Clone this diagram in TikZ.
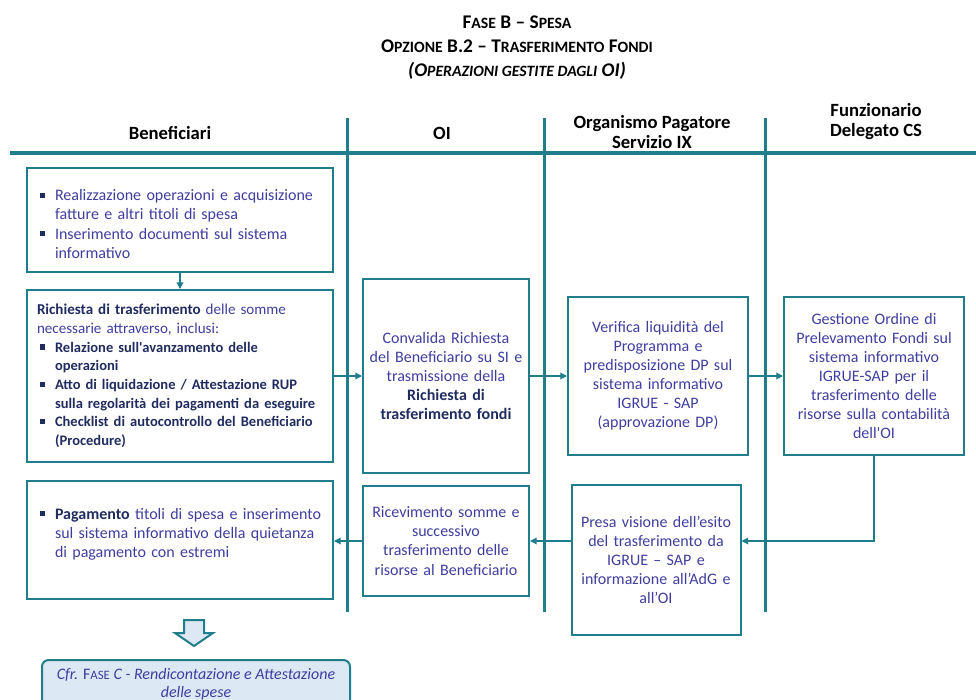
\documentclass[tikz,border=0pt]{standalone}
\usepackage{fontspec}
\setmainfont{Carlito}
\usetikzlibrary{positioning, arrows.meta}
\definecolor{lane}{RGB}{31,125,140}
\definecolor{txtblue}{RGB}{62,62,160}
\definecolor{navy}{RGB}{32,44,96}
\definecolor{cfrfill}{RGB}{221,232,245}
\newcommand{\smc}[1]{{\fontsize{11.8pt}{15pt}\selectfont #1}}
\newcommand{\nl}{\hfil\break}
\newcommand{\bitem}{\par\noindent\hangindent=13.5pt\hangafter=1\hspace*{2.25pt}\makebox[11.25pt][l]{\textcolor{navy}{\rule[2pt]{4pt}{4pt}}}}
\tikzset{
  lanebox/.style={draw=lane, line width=1.5pt, text=txtblue, inner ysep=0pt, font=\fontsize{12pt}{14.3pt}\selectfont},
  ctrbox/.style={lanebox, align=center, inner xsep=2pt},
  listbox/.style={lanebox, align=left, inner xsep=7.5pt, text width=214.5pt},
  cfrbox/.style={draw=lane, line width=1.5pt, fill=cfrfill, rounded corners=5pt, text=txtblue, align=center, inner ysep=0pt, font=\fontsize{12pt}{13.5pt}\selectfont},
  laneline/.style={draw=lane, line width=2.25pt},
  flow/.style={draw=lane, line width=0.9pt, -{Triangle[length=5pt,width=5pt]}},
  header/.style={font=\fontsize{14pt}{15pt}\selectfont\bfseries, align=center}
}
\begin{document}
\begin{tikzpicture}[x=0.75pt, y=-0.75pt]
    \useasboundingbox (0,0) rectangle (976,700);
    \clip (0,0) rectangle (976,700);

    % Title
    \node[header, font=\fontsize{14.5pt}{15pt}\selectfont\bfseries] (title) at (517,48) {F\smc{ASE} B -- S\smc{PESA}\\[3pt]
        O\smc{PZIONE} B.2 -- T\smc{RASFERIMENTO} F\smc{ONDI}\\[3pt]
        \textit{(O\smc{PERAZIONI GESTITE DAGLI} OI)}};

    % Lanes
    \draw[lane, line width=3pt] (10,153) -- (976,153);
    \draw[laneline] (347,118) -- (347,612);
    \draw[laneline] (544,118) -- (544,612);
    \draw[laneline] (765,118) -- (765,612);

    \node[header] (hbenef) at (170,133) {Beneficiari};
    \node[header] (hoi) at (442,133) {OI};
    \node[header] (hpag) at (652,132) {Organismo Pagatore\\Servizio IX};
    \node[header] (hfunz) at (876,122) {Funzionario\\Delegato CS};

    % Boxes
    \node[listbox, minimum height=78pt] (real) at (180,220) {%
        \bitem Realizzazione operazioni e acquisizione\nl fatture e altri titoli di spesa
        \bitem Inserimento documenti sul sistema\nl informativo\par};
    \node[listbox, minimum height=129pt, font=\fontsize{11.3pt}{14pt}\selectfont] (rich) at (180,376) {%
        \textcolor{navy}{\textbf{Richiesta di trasferimento}} delle somme\nl necessarie attraverso, inclusi:
        \color{navy}\bfseries\fontsize{10.9pt}{14pt}\selectfont
        \bitem Relazione sull\textquotesingle avanzamento delle\nl operazioni
        \bitem Atto di liquidazione / Attestazione RUP\nl sulla regolarità dei pagamenti da eseguire
        \bitem Checklist di autocontrollo del Beneficiario\nl (Procedure)\par};
    \node[ctrbox, text width=120.5pt, minimum height=145.5pt] (conv) at (446,376) {Convalida Richiesta\\ del Beneficiario su SI e\\ trasmissione della\\ \textcolor{navy}{\textbf{Richiesta di}}\\ \textcolor{navy}{\textbf{trasferimento fondi}}};
    \node[ctrbox, text width=131pt, minimum height=118.5pt] (verif) at (658,376) {Verifica liquidità del\\ Programma e\\ predisposizione DP sul\\ sistema informativo\\ IGRUE - SAP\\ (approvazione DP)};
    \node[ctrbox, text width=131pt, minimum height=119pt] (gest) at (874,376) {Gestione Ordine di\\ Prelevamento Fondi sul\\ sistema informativo\\ IGRUE-SAP per il\\ trasferimento delle\\ risorse sulla contabilità\\ dell\textquotesingle OI};
    \node[listbox, minimum height=89pt] (pag) at (180,540) {%
        \bitem \textcolor{navy}{\textbf{Pagamento}} titoli di spesa e inserimento\nl sul sistema informativo della quietanza\nl di pagamento con estremi\par\vspace{15pt}};
    \node[ctrbox, text width=120.5pt, minimum height=83pt] (ricev) at (446,541) {Ricevimento somme e\\ successivo\\ trasferimento delle\\ risorse al Beneficiario};
    \node[ctrbox, text width=122.75pt, minimum height=112.5pt] (presa) at (656,560) {Presa visione dell’esito\\ del trasferimento da\\ IGRUE -- SAP e\\ informazione all’AdG e\\ all’OI};

    % Connectors
    \draw[flow] (real.south) -- (rich.north);
    \draw[flow] (rich.east) -- (conv.west);
    \draw[flow] (conv.east) -- (verif.west);
    \draw[flow] (verif.east) -- (gest.west);
    \draw[flow] (gest.south) |- (presa.east |- ricev.east);
    \draw[flow] (presa.west |- ricev.east) -- (ricev.east);
    \draw[flow] (ricev.west) -- (pag.east |- ricev.west);

    % Next phase
    \draw[lane, line width=1.5pt, fill=cfrfill, line join=miter] (184,620) -- (204,620) -- (204,633) -- (213,633) -- (194,646) -- (175,633) -- (184,633) -- cycle;
    \node[cfrbox, minimum width=231pt, minimum height=36pt] (cfr) at (196,684) {\textit{Cfr.} F{\fontsize{9.6pt}{12pt}\selectfont ASE} \textit{C - Rendicontazione e Attestazione}\\ \textit{delle spese}};
\end{tikzpicture}
\end{document}
